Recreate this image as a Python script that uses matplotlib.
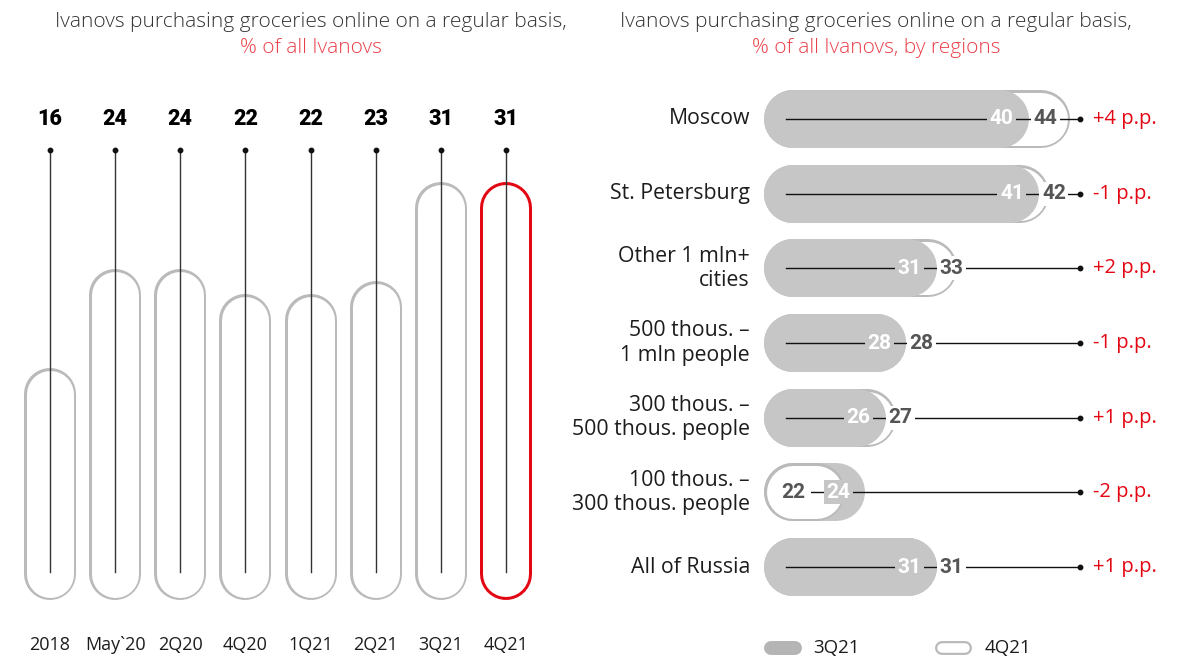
import matplotlib
matplotlib.use("Agg")
import matplotlib.pyplot as plt
from matplotlib.lines import Line2D
from matplotlib.transforms import blended_transform_factory

# ---- data -------------------------------------------------------------
periods = ["2018", "May`20", "2Q20", "4Q20", "1Q21", "2Q21", "3Q21", "4Q21"]
share_total = [16, 24, 24, 22, 22, 23, 31, 31]

regions = ["Moscow", "St. Petersburg", "Other 1 mln+\ncities",
           "500 thous. –\n1 mln people", "300 thous. –\n500 thous. people",
           "100 thous. –\n300 thous. people", "All of Russia"]
share_3q21 = [40, 41, 31, 28, 26, 24, 31]
share_4q21 = [44, 42, 33, 28, 27, 22, 31]
change_labels = ["+4 p.p.", "-1 p.p.", "+2 p.p.", "-1 p.p.", "+1 p.p.", "-2 p.p.", "+1 p.p."]

# ---- style ------------------------------------------------------------
W, H, DPI = 1179, 657, 100
GRAY_FILL = "#c6c6c6"
GRAY_EDGE = "#bababa"
RED = "#e30613"
RED_SOFT = "#ea3f48"
DARK = "#1c1c1c"
NUM_DARK = "#555555"
PT = 72 / DPI  # points per pixel

REG = "Open Sans"
NUM = "Roboto"

fig = plt.figure(figsize=(W / DPI, H / DPI), dpi=DPI)
fig.patch.set_facecolor("white")


def fx(px):
    return px / W


def fy(px):
    return 1 - px / H


# ---- titles -------------------------------------------------------------
title = "Ivanovs purchasing groceries online on a regular basis,"
for cx, sub in ((311, "% of all Ivanovs"), (876, "% of all Ivanovs, by regions")):
    fig.text(fx(cx), fy(22), title, ha="center", va="center", fontsize=15,
             family=REG, weight="light", color="#333333")
    fig.text(fx(cx), fy(48), sub, ha="center", va="center", fontsize=15,
             family=REG, weight="light", color=RED_SOFT)

# ---- left panel: vertical pills --------------------------------------
axL = fig.add_axes([0, 0, 590 / W, 1])
axL.axis("off")
step_px, x0_px = 65.14, 50
unit_py, zero_py = 12.4, 566.4
axL.set_xlim(-x0_px / step_px, (590 - x0_px) / step_px)
axL.set_ylim((zero_py - H) / unit_py, zero_py / unit_py)

pill_w = 52
capL = (pill_w / 2) / unit_py
base_L = -0.6
trL = blended_transform_factory(axL.transData, fig.transFigure)

for i, (lab, v) in enumerate(zip(periods, share_total)):
    last = i == len(periods) - 1
    edge = RED if last else GRAY_EDGE
    border = 3.0 if last else 2.5
    axL.plot([i, i], [base_L, v - capL], color=edge, lw=pill_w * PT,
             solid_capstyle="round", zorder=1)
    axL.plot([i, i], [base_L, v - capL], color="white",
             lw=(pill_w - 2 * border) * PT, solid_capstyle="round", zorder=2)
    # stem and dot
    axL.add_line(Line2D([i, i], [fy(150), fy(572)], transform=trL,
                        color="#333333", lw=1.0, zorder=3))
    axL.add_line(Line2D([i], [fy(150)], transform=trL, marker="o",
                        markersize=3.2, color="#111111", zorder=4))
    axL.text(i, fy(119), str(v), transform=trL, ha="center", va="center",
             fontsize=15.5, family=NUM, weight="black", color="#000000")
    axL.text(i, fy(645), lab, transform=trL, ha="center", va="center",
             fontsize=13, family=REG, color=DARK)

# ---- right panel: horizontal pills -------------------------------------
axR = fig.add_axes([600 / W, 0, 579 / W, 1])
axR.axis("off")
unit_px, base_px, base_val = 10.22, 764, 14.1
row_px, row0_px = 74.67, 119
axR.set_xlim(base_val - (base_px - 600) / unit_px,
             base_val + (1179 - base_px) / unit_px)
axR.set_ylim((H - row0_px) / row_px, -row0_px / row_px)

pill_h = 58
capR = (pill_h / 2) / unit_px
px = 1 / unit_px  # data units per pixel
trR = blended_transform_factory(fig.transFigure, axR.transData)

for j, (name, a, b, chg) in enumerate(zip(regions, share_3q21, share_4q21,
                                          change_labels)):
    # longer pill goes underneath
    z_gray, z_out = (3, 1) if a <= b else (1, 3)
    axR.plot([base_val + capR, a - capR], [j, j], color=GRAY_FILL,
             lw=pill_h * PT, solid_capstyle="round", zorder=z_gray)
    axR.plot([base_val + capR, b - capR], [j, j], color=GRAY_EDGE,
             lw=pill_h * PT, solid_capstyle="round", zorder=z_out)
    axR.plot([base_val + capR, b - capR], [j, j], color="white",
             lw=(pill_h - 5) * PT, solid_capstyle="round", zorder=z_out + 0.5)

    # connector line and dot
    axR.add_line(Line2D([fx(786), fx(1080)], [j, j], transform=trR,
                        color="#111111", lw=1.0, zorder=5))
    axR.add_line(Line2D([fx(1080)], [j], transform=trR, marker="o",
                        markersize=3.2, color="#111111", zorder=6))

    # value labels
    gap = 42 * px
    if b >= a:
        x3 = a - 27 * px
        x4 = max(x3 + gap, b - 24 * px)
    else:
        x4 = base_val + capR
        x3 = max(x4 + gap, a - 27 * px)
    axR.text(x3, j, str(a), ha="center", va="center", fontsize=15,
             family=NUM, weight="bold", color="white", zorder=7,
             bbox=dict(boxstyle="square,pad=0.12", fc=GRAY_FILL, ec="none"))
    axR.text(x4, j, str(b), ha="center", va="center", fontsize=15,
             family=NUM, weight="bold", color=NUM_DARK, zorder=7,
             bbox=dict(boxstyle="square,pad=0.3" if b < a else "square,pad=0.12",
                       fc="white", ec="none"))

    axR.text(fx(1093), j, chg, transform=trR, ha="left", va="center",
             fontsize=14.5, family=REG, color=RED)
    axR.text(fx(750), j, name, transform=trR, ha="right", va="center",
             fontsize=15.3, family=REG, color=DARK, linespacing=1.2)

# ---- legend -----------------------------------------------------------
leg_y = fy(648)
fig.add_artist(Line2D([fx(771), fx(795)], [leg_y, leg_y], color="#b5b5b5",
                      lw=14 * PT, solid_capstyle="round"))
fig.add_artist(Line2D([fx(942), fx(965)], [leg_y, leg_y], color=GRAY_EDGE,
                      lw=14 * PT, solid_capstyle="round"))
fig.add_artist(Line2D([fx(942), fx(965)], [leg_y, leg_y], color="white",
                      lw=9.5 * PT, solid_capstyle="round"))
fig.text(fx(813), leg_y, "3Q21", ha="left", va="center", fontsize=13.5,
         family=REG, color=DARK)
fig.text(fx(985), leg_y, "4Q21", ha="left", va="center", fontsize=13.5,
         family=REG, color=DARK)

fig.savefig("out.png", dpi=DPI, facecolor="white")
